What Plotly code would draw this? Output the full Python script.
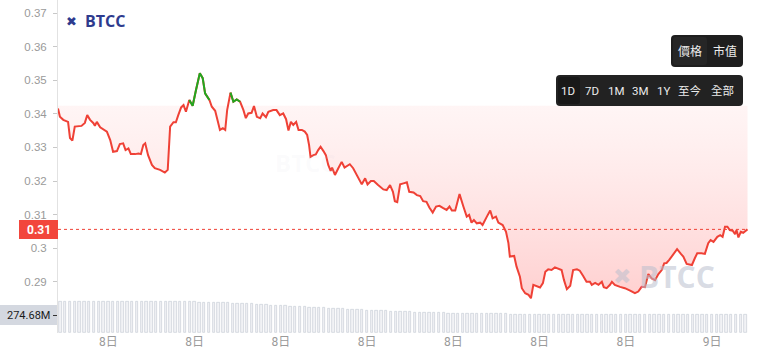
import plotly.graph_objects as go
import pandas as pd

# ---------------- data ----------------
minutes = [0, 4, 11, 18, 21, 25, 30, 35, 42, 49,
           56, 61, 67, 74, 77, 81, 88, 95, 102, 109,
           115, 123, 129, 136, 141, 147, 152, 161, 168, 173,
           178, 182, 188, 196, 202, 213, 223, 229, 234, 241,
           246, 251, 257, 262, 267, 274, 281, 288, 296, 302,
           307, 316, 321, 328, 332, 338, 344, 349, 353, 360,
           366, 373, 380, 387, 392, 397, 404, 409, 415, 422,
           427, 434, 439, 449, 456, 463, 470, 476, 481, 486,
           491, 497, 502, 509, 515, 520, 524, 527, 533, 538,
           543, 548, 554, 559, 564, 569, 572, 578, 585, 592,
           598, 609, 616, 625, 634, 641, 646, 653, 659, 668,
           679, 686, 693, 699, 703, 708, 714, 721, 728, 733,
           742, 749, 756, 762, 769, 775, 782, 789, 796, 804,
           811, 817, 822, 829, 838, 846, 853, 858, 863, 868,
           874, 881, 886, 895, 902, 907, 914, 919, 928, 935,
           940, 943, 952, 957, 964, 968, 975, 982, 987, 992,
           999, 1006, 1012, 1017, 1023, 1030, 1037, 1044, 1051, 1056,
           1062, 1069, 1075, 1083, 1089, 1096, 1103, 1110, 1114, 1121,
           1128, 1135, 1139, 1145, 1152, 1156, 1162, 1173, 1183, 1194,
           1204, 1211, 1218, 1225, 1232, 1239, 1246, 1253, 1260, 1265,
           1270, 1276, 1284, 1292, 1300, 1305, 1312, 1323, 1329, 1334,
           1343, 1350, 1357, 1362, 1368, 1376, 1382, 1387, 1392, 1397,
           1402, 1408, 1413, 1416, 1420, 1425, 1430, 1436, 1439]

price = [0.3416, 0.3391, 0.3382, 0.3379, 0.3376, 0.3328, 0.3320, 0.3362, 0.3362, 0.3364,
         0.3373, 0.3396, 0.3382, 0.3372, 0.3364, 0.3376, 0.3360, 0.3354, 0.3347, 0.3322,
         0.3287, 0.3289, 0.3310, 0.3312, 0.3292, 0.3297, 0.3280, 0.3280, 0.3282, 0.3280,
         0.3307, 0.3312, 0.3277, 0.3248, 0.3238, 0.3233, 0.3225, 0.3233, 0.3362, 0.3375,
         0.3375, 0.3396, 0.3419, 0.3426, 0.3406, 0.3441, 0.3424, 0.3471, 0.3521, 0.3506,
         0.3461, 0.3441, 0.3421, 0.3409, 0.3382, 0.3352, 0.3357, 0.3352, 0.3411, 0.3463,
         0.3436, 0.3443, 0.3436, 0.3411, 0.3387, 0.3401, 0.3403, 0.3423, 0.3391, 0.3387,
         0.3401, 0.3390, 0.3406, 0.3411, 0.3411, 0.3396, 0.3401, 0.3384, 0.3350, 0.3376,
         0.3367, 0.3376, 0.3352, 0.3352, 0.3347, 0.3337, 0.3307, 0.3272, 0.3277, 0.3279,
         0.3292, 0.3302, 0.3289, 0.3277, 0.3248, 0.3230, 0.3240, 0.3218, 0.3238, 0.3257,
         0.3240, 0.3250, 0.3238, 0.3213, 0.3190, 0.3208, 0.3190, 0.3200, 0.3200, 0.3188,
         0.3175, 0.3173, 0.3188, 0.3168, 0.3140, 0.3137, 0.3190, 0.3193, 0.3196, 0.3168,
         0.3166, 0.3158, 0.3155, 0.3140, 0.3138, 0.3121, 0.3106, 0.3124, 0.3126, 0.3119,
         0.3114, 0.3124, 0.3112, 0.3112, 0.3161, 0.3124, 0.3094, 0.3099, 0.3076, 0.3084,
         0.3074, 0.3076, 0.3069, 0.3094, 0.3112, 0.3089, 0.3094, 0.3076, 0.3069, 0.3049,
         0.3015, 0.2975, 0.2977, 0.2945, 0.2915, 0.2881, 0.2866, 0.2861, 0.2851, 0.2891,
         0.2888, 0.2883, 0.2896, 0.2930, 0.2937, 0.2935, 0.2943, 0.2940, 0.2935, 0.2905,
         0.2878, 0.2888, 0.2935, 0.2937, 0.2933, 0.2917, 0.2900, 0.2900, 0.2891, 0.2897,
         0.2891, 0.2900, 0.2884, 0.2881, 0.2891, 0.2900, 0.2891, 0.2885, 0.2881, 0.2874,
         0.2866, 0.2871, 0.2885, 0.2884, 0.2923, 0.2910, 0.2905, 0.2923, 0.2935, 0.2955,
         0.2956, 0.2966, 0.2980, 0.2997, 0.2983, 0.2975, 0.2953, 0.2950, 0.2970, 0.2985,
         0.2985, 0.2983, 0.3015, 0.3024, 0.3019, 0.3034, 0.3039, 0.3034, 0.3064, 0.3064,
         0.3054, 0.3052, 0.3042, 0.3054, 0.3032, 0.3049, 0.3046, 0.3052, 0.3056]

# 10-minute volume bars, millions
vol_m = [472, 470, 471, 473, 470, 472, 474, 471, 470, 472, 473, 471,
         470, 472, 475, 474, 476, 475, 473, 472, 474, 476, 478, 477,
         475, 474, 473, 472, 470, 468, 466, 465, 463, 460, 458, 455,
         452, 450, 447, 444, 440, 436, 432, 428, 424, 420, 416, 412,
         408, 404, 400, 396, 392, 388, 384, 380, 376, 372, 368, 364,
         360, 356, 352, 348, 345, 342, 339, 336, 333, 330, 327, 324,
         321, 318, 316, 314, 312, 310, 308, 306, 304, 302, 300, 298,
         296, 295, 294, 293, 292, 291, 290, 289, 288, 287, 286, 285,
         284, 283, 282, 281, 280, 280, 279, 279, 278, 278, 277, 277,
         276, 276, 276, 275, 275, 275, 275, 275, 275, 274, 274, 274,
         275, 275, 276, 276, 275, 275, 274, 274, 275, 275, 275, 275,
         275, 275, 274, 274, 275, 275, 275, 274, 275, 275, 274.7, 274.68]

y_tick_vals = [0.29, 0.30, 0.31, 0.32, 0.33, 0.34, 0.35, 0.36, 0.37]
y_tick_text = ["0.29", "0.3", "0.31", "0.32", "0.33", "0.34", "0.35", "0.36", "0.37"]
baseline = 0.3424
price_label = "0.31"
vol_label = "274.68M"
view_buttons = ["價格", "市值"]
range_buttons = ["1D", "7D", "1M", "3M", "1Y", "至今", "全部"]

if len(minutes) != len(price):
    raise ValueError("length mismatch")

# ---------------- figure ----------------
W, H = 758, 364
ML, MR, MT, MB = 58, 10, 0, 31
PW, PH = W - ML - MR, H - MT - MB

def X(px):
    return (px - ML) / PW

def Y(py):
    return (H - MB - py) / PH

start = pd.Timestamp("2024-06-08 01:15")
times = [start + pd.Timedelta(minutes=m) for m in minutes]
vol_times = [start + pd.Timedelta(minutes=5 + 10 * i) for i in range(len(vol_m))]
end = start + pd.Timedelta(minutes=1440)

RED = "#ef4136"
GREEN = "#20a820"

fig = go.Figure()

fig.add_trace(go.Bar(
    x=vol_times, y=[v * 1e6 for v in vol_m], yaxis="y2",
    marker=dict(color="#f1f2f5", line=dict(color="#c9ced7", width=0.7)),
    width=10 * 60 * 1000 * 0.5, hoverinfo="skip", showlegend=False))

fig.add_trace(go.Scatter(
    x=times, y=[baseline] * len(times), mode="lines",
    line=dict(width=0), hoverinfo="skip", showlegend=False))

fig.add_trace(go.Scatter(
    x=times, y=[min(v, baseline) for v in price], mode="lines",
    line=dict(width=0), fill="tonexty",
    fillgradient=dict(type="vertical", start=0.285, stop=baseline,
                      colorscale=[[0, "rgba(255,205,205,0.95)"],
                                  [1, "rgba(255,238,238,0.6)"]]),
    hoverinfo="skip", showlegend=False))

fig.add_trace(go.Scatter(
    x=times, y=price, mode="lines", line=dict(color=RED, width=2),
    showlegend=False))

fig.add_trace(go.Scatter(
    x=times, y=[v if v >= baseline else None for v in price], mode="lines",
    line=dict(color=GREEN, width=2), connectgaps=False, showlegend=False))

shapes = []
annotations = []

# current price dotted line
shapes.append(dict(type="line", xref="paper", x0=0, x1=1, yref="y",
                   y0=price[-1], y1=price[-1],
                   line=dict(color=RED, width=1, dash="dot")))

def rrect(x0, y0, x1, y1, r, color):
    p = (f"M {X(x0 + r)},{Y(y0)} L {X(x1 - r)},{Y(y0)} "
         f"Q {X(x1)},{Y(y0)} {X(x1)},{Y(y0 + r)} L {X(x1)},{Y(y1 - r)} "
         f"Q {X(x1)},{Y(y1)} {X(x1 - r)},{Y(y1)} L {X(x0 + r)},{Y(y1)} "
         f"Q {X(x0)},{Y(y1)} {X(x0)},{Y(y1 - r)} L {X(x0)},{Y(y0 + r)} "
         f"Q {X(x0)},{Y(y0)} {X(x0 + r)},{Y(y0)} Z")
    return dict(type="path", path=p, xref="paper", yref="paper",
                fillcolor=color, line=dict(width=0), layer="above")

def txt(px, py, s, size, color, family="Roboto, 'Noto Sans CJK TC', sans-serif",
        xanchor="center"):
    annotations.append(dict(x=X(px), y=Y(py), xref="paper", yref="paper",
                            text=s, showarrow=False, xanchor=xanchor,
                            yanchor="middle", font=dict(size=size, color=color,
                                                        family=family)))

# left labels
shapes.append(dict(type="rect", xref="paper", yref="paper",
                   x0=X(19), x1=X(58), y0=Y(239), y1=Y(220),
                   fillcolor="#f2463c", line=dict(width=0), layer="above"))
txt(38.5, 229.5, f"<b>{price_label}</b>", 12, "white")
shapes.append(dict(type="rect", xref="paper", yref="paper",
                   x0=X(0), x1=X(57), y0=Y(325), y1=Y(305),
                   fillcolor="#d4d8e0", line=dict(width=0), layer="above"))
txt(28, 315.5, vol_label, 11, "#1b1b1b")
shapes.append(dict(type="line", xref="paper", yref="paper",
                   x0=X(53), x1=X(57), y0=Y(315.5), y1=Y(315.5),
                   line=dict(color="#333", width=1)))

# logo
txt(71, 21, "✖", 13, "#2e3b8e")
txt(83, 21, "<b>BTCC</b>", 16, "#2e3b8e", family="'Open Sans', Roboto, sans-serif",
    xanchor="left")
# watermarks
txt(622, 276, "✖", 22, "rgba(185,190,205,0.55)")
txt(637, 276, "<b>BTCC</b>", 30, "rgba(185,190,205,0.55)",
    family="'Open Sans', Roboto, sans-serif", xanchor="left")
txt(305, 162, "<b>BTCC</b>", 24, "rgba(200,200,210,0.08)",
    family="'Open Sans', Roboto, sans-serif")

# buttons
shapes.append(rrect(671, 35, 743, 67, 4, "#1e1e1e"))
shapes.append(rrect(673, 37, 707, 65, 3, "#262626"))
for cx, s in zip([690, 725], view_buttons):
    txt(cx, 51, s, 12, "#ececec")
shapes.append(rrect(556, 75, 743, 106, 4, "#222222"))
shapes.append(rrect(558, 77, 580, 104, 3, "#181818"))
for cx, s in zip([568, 592, 616, 640, 663, 690, 722], range_buttons):
    txt(cx, 90.5, s, 11.5, "#ececec")

fig.update_layout(
    width=W, height=H,
    margin=dict(l=ML, r=MR, t=MT, b=MB),
    paper_bgcolor="white", plot_bgcolor="white",
    showlegend=False, bargap=0,
    shapes=shapes, annotations=annotations,
    xaxis=dict(type="date", range=[start, end], showgrid=False, zeroline=False,
               showline=False, ticks="", tickformat="%-d日",
               tick0="2024-06-08 03:00", dtick=3 * 3600 * 1000,
               tickfont=dict(size=12, color="#9a9a9a",
                             family="Roboto, 'Noto Sans CJK SC', sans-serif"),
               anchor="y"),
    yaxis=dict(domain=[0, 1], range=[0.274762, 0.373869], tickvals=y_tick_vals,
               ticktext=y_tick_text, showgrid=False, zeroline=False,
               showline=True, linecolor="#e2e2e2", linewidth=1,
               ticks="outside", ticklen=4, tickcolor="#c8c8c8",
               ticklabelstandoff=4,
               tickfont=dict(size=11.5, color="#9a9a9a",
                             family="'Liberation Sans', Arial, sans-serif")),
    yaxis2=dict(domain=[0, 0.1], range=[0, 508e6], showgrid=False,
                zeroline=False, showticklabels=False, anchor="x"),
)

fig.write_html("out.html")
